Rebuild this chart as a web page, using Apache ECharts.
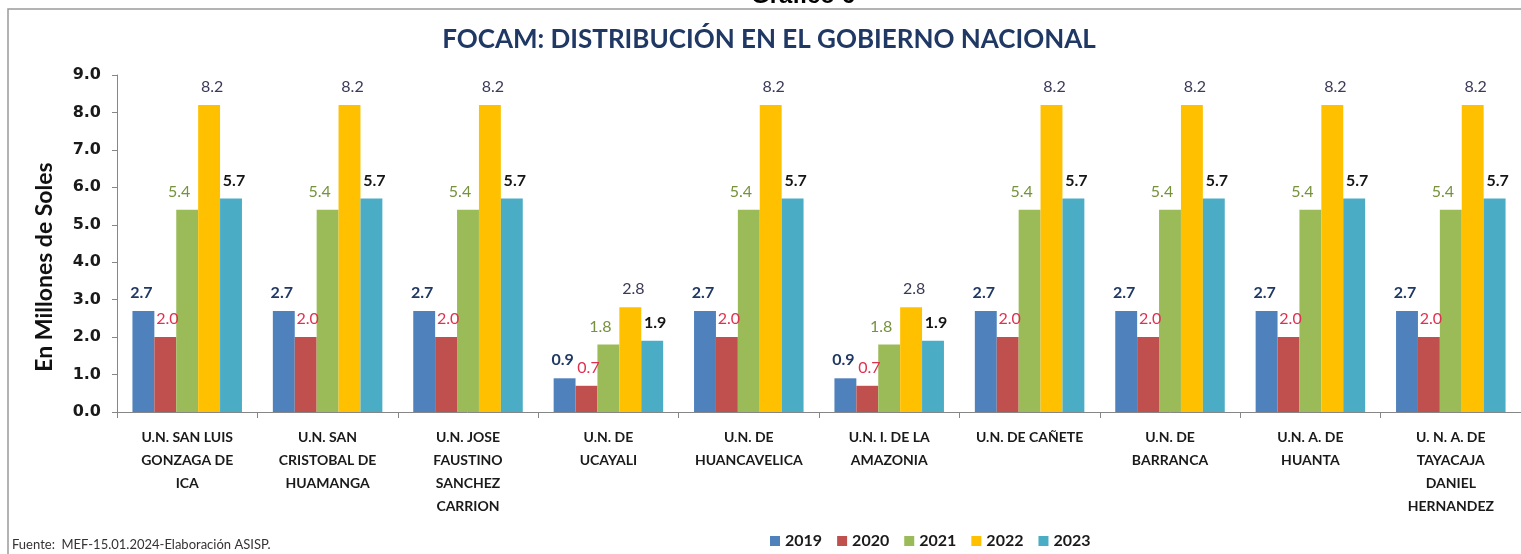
<!DOCTYPE html>
<html>
<head>
<meta charset="utf-8">
<script src="https://cdn.jsdelivr.net/npm/echarts@6/dist/echarts.min.js"></script>
<style>
  html, body { margin: 0; padding: 0; background: #fff; }
  #chart { width: 1521px; height: 554px; }
</style>
</head>
<body>
<div id="chart"></div>
<script>
//  Data

var categories = [
  'U.N. SAN LUIS\nGONZAGA DE\nICA',
  'U.N. SAN\nCRISTOBAL DE\nHUAMANGA',
  'U.N. JOSE\nFAUSTINO\nSANCHEZ\nCARRION',
  'U.N. DE\nUCAYALI',
  'U.N. DE\nHUANCAVELICA',
  'U.N. I. DE LA\nAMAZONIA',
  'U.N. DE CAÑETE',
  'U.N. DE\nBARRANCA',
  'U.N. A. DE\nHUANTA',
  'U. N. A. DE\nTAYACAJA\nDANIEL\nHERNANDEZ'
];
var years = ['2019', '2020', '2021', '2022', '2023'];
var v2019 = [2.7, 2.7, 2.7, 0.9, 2.7, 0.9, 2.7, 2.7, 2.7, 2.7];
var v2020 = [2.0, 2.0, 2.0, 0.7, 2.0, 0.7, 2.0, 2.0, 2.0, 2.0];
var v2021 = [5.4, 5.4, 5.4, 1.8, 5.4, 1.8, 5.4, 5.4, 5.4, 5.4];
var v2022 = [8.2, 8.2, 8.2, 2.8, 8.2, 2.8, 8.2, 8.2, 8.2, 8.2];
var v2023 = [5.7, 5.7, 5.7, 1.9, 5.7, 1.9, 5.7, 5.7, 5.7, 5.7];

//  Chart

var FONT = 'Lato';
var NUMFONT = '"DejaVu Sans"';
var barColors = ['#4F81BD', '#C0504D', '#9BBB59', '#FFC000', '#4BACC6'];
var labelColors = ['#1F3864', '#E0304E', '#76923C', '#3A3A58', '#151515'];
var labelWeights = ['bold', 'normal', 'normal', 'normal', 'bold'];
var labelOffsets = [[-2, 0], [2, 0], [-8, 0], [3, 0], [3, 0]];
var values = [v2019, v2020, v2021, v2022, v2023];

var series = years.map(function(y, i) {
  return {
    name: y,
    type: 'bar',
    data: values[i],
    barGap: '0%',
    barCategoryGap: '22%',
    itemStyle: { color: barColors[i] },
    label: {
      show: true,
      position: 'top',
      distance: 10,
      offset: labelOffsets[i],
      formatter: function(p) { return p.value.toFixed(1); },
      color: labelColors[i],
      fontFamily: FONT,
      fontSize: 16,
      fontWeight: labelWeights[i]
    }
  };
});

var myChart = echarts.init(document.getElementById('chart'), null, {renderer: 'canvas'});
var option = {
  animation: false,
  backgroundColor: '#fff',
  color: barColors,
  title: {
    text: 'FOCAM: DISTRIBUCIÓN EN EL GOBIERNO NACIONAL',
    left: 764,
    top: 22,
    textAlign: 'center',
    textStyle: {
      color: '#1F3864',
      fontFamily: FONT,
      fontSize: 26,
      fontWeight: 'bold'
    }
  },
  legend: {
    data: years,
    left: 765,
    top: 528,
    icon: 'rect',
    itemWidth: 10,
    itemHeight: 10,
    itemGap: 15,
    textStyle: {
      color: '#1a1a1a',
      fontFamily: FONT,
      fontSize: 16,
      fontWeight: 'bold'
    }
  },
  grid: {
    left: 117,
    right: -10,
    top: 75,
    bottom: 142,
    containLabel: false
  },
  xAxis: {
    type: 'category',
    data: categories,
    axisLine: { lineStyle: { color: '#868686', width: 1 } },
    axisTick: { show: true, length: 6, alignWithLabel: false, lineStyle: { color: '#868686' } },
    axisLabel: {
      interval: 0,
      margin: 14,
      color: '#1a1a1a',
      fontFamily: FONT,
      fontSize: 14,
      fontWeight: 'bold',
      lineHeight: 23
    }
  },
  yAxis: {
    type: 'value',
    min: 0,
    max: 9,
    interval: 1,
    axisLine: { show: true, lineStyle: { color: '#868686', width: 1 } },
    axisTick: { show: true, length: 5, lineStyle: { color: '#868686' } },
    splitLine: { show: false },
    axisLabel: {
      margin: 16,
      formatter: function(v) { return v.toFixed(1); },
      color: '#1a1a1a',
      fontFamily: NUMFONT,
      fontSize: 16,
      fontWeight: 'bold'
    }
  },
  graphic: [
    {
      type: 'rect',
      shape: { x: 8, y: 9, width: 1540, height: 570 },
      style: { fill: null, stroke: '#9a9a9a', lineWidth: 1.5 },
      silent: true
    },
    {
      type: 'text',
      x: 803,
      y: 8,
      style: {
        text: 'Gráfico 6',
        fill: '#000',
        font: 'bold 24px "Liberation Sans", Arial',
        textAlign: 'center',
        textVerticalAlign: 'bottom'
      }
    },
    {
      type: 'text',
      x: 45,
      y: 267,
      rotation: Math.PI / 2,
      style: {
        text: 'En Millones de Soles',
        fill: '#111',
        font: 'bold 23px ' + FONT,
        textAlign: 'center',
        textVerticalAlign: 'middle'
      }
    },
    {
      type: 'text',
      x: 12,
      y: 545,
      style: {
        text: 'Fuente:  MEF-15.01.2024-Elaboración ASISP.',
        fill: '#333',
        font: '13px ' + FONT,
        textAlign: 'left',
        textVerticalAlign: 'middle'
      }
    }
  ],
  series: series
};
myChart.setOption(option);
</script>
</body>
</html>
